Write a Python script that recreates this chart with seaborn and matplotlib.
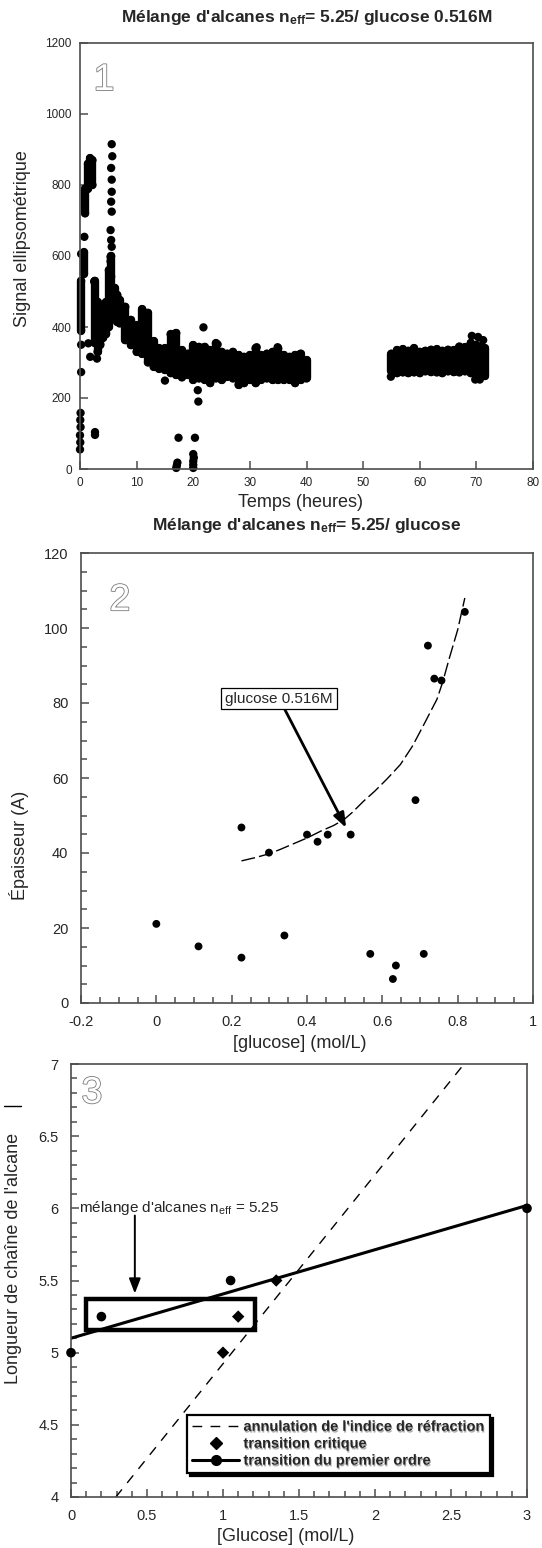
import seaborn as sns
import matplotlib.pyplot as plt
from matplotlib import patheffects
from matplotlib.lines import Line2D
from matplotlib.patches import Rectangle
from matplotlib.ticker import FuncFormatter, MultipleLocator

# ---------------- panel 1 : signal vs time ----------------
# dense parts of the cloud, read as (time, lowest point, highest point)
p1_t = [0.2, 0.7, 0.9, 1.4, 1.8, 2.2, 2.6, 3.1, 3.6, 4.1, 4.6, 5.1, 5.5, 6.1, 6.6,
        7, 8, 9, 10, 11, 12, 13, 14, 15, 16, 17, 18, 19, 20, 21, 22, 23, 24, 25, 26,
        27, 28, 29, 30, 31, 32, 33, 34, 35, 36, 37, 38, 39, 40,
        55, 56, 57, 58, 59, 60, 61, 62, 63, 64, 65, 66, 67, 68, 69, 70, 71, 71.5]
p1_lo = [390, 550, 720, 790, 810, 800, 355, 330, 350, 370, 380, 400, 480, 430, 415,
         410, 363, 349, 330, 325, 300, 288, 283, 279, 270, 265, 258, 265, 251, 255, 251, 242, 255, 251, 260,
         255, 237, 242, 251, 242, 251, 255, 251, 251, 251, 251, 242, 251, 255,
         275, 270, 272, 270, 272, 270, 275, 273, 272, 270, 275, 273, 272, 275, 270, 270, 270, 262]
p1_hi = [530, 610, 790, 860, 875, 870, 530, 470, 440, 450, 470, 560, 600, 510, 490,
         476, 457, 420, 405, 450, 440, 360, 340, 340, 380, 383, 335, 325, 349, 344, 344, 335, 354, 330, 325,
         330, 321, 316, 321, 340, 321, 325, 330, 340, 321, 316, 321, 325, 306,
         325, 335, 337, 333, 340, 330, 333, 336, 337, 333, 336, 335, 345, 343, 355, 350, 345, 340]
# isolated points
p1_pt_t = [0.0, 0.05, 0.0, 0.1, 0.05, 0.1,
           5.6, 5.7, 5.5, 5.6, 5.6, 5.5, 5.6, 5.4, 5.5, 5.6, 5.4, 5.4, 5.5,
           0.2, 0.2, 0.2, 0.77, 1.47, 1.8, 3.0, 2.65, 2.65, 2.5,
           15.0, 21.8, 20.8, 20.9, 24.3, 31.2, 34.9, 38.8,
           17.0, 17.1, 17.2, 17.4, 20.0, 20.0, 20.0, 20.1, 20.0, 20.3,
           54.9, 69.2, 70.3, 71.2, 69.8, 70.6]
p1_pt_y = [55, 75, 95, 118, 138, 158,
           915, 881, 848, 815, 781, 753, 725, 673, 645, 626, 598, 585, 542,
           273, 350, 606, 654, 354, 316, 311, 96, 104, 528,
           249, 399, 222, 190, 351, 343, 343, 323,
           3, 10, 18, 88, 3, 12, 22, 32, 42, 88,
           260, 375, 372, 363, 252, 252]

# ---------------- panel 2 : thickness vs glucose ----------------
p2_x = [0.0, 0.112, 0.226, 0.226, 0.299, 0.340, 0.400, 0.428, 0.455, 0.516,
        0.568, 0.628, 0.636, 0.688, 0.710, 0.721, 0.738, 0.757, 0.819]
p2_y = [21.1, 15.1, 12.1, 46.8, 40.1, 18.0, 44.9, 43.0, 44.9, 44.9,
        13.1, 6.4, 10.0, 54.1, 13.1, 95.3, 86.5, 86.0, 104.3]
fit_x = [0.226, 0.26, 0.30, 0.33, 0.365, 0.40, 0.44, 0.47, 0.498, 0.52, 0.55, 0.58,
         0.612, 0.648, 0.68, 0.71, 0.745, 0.76, 0.778, 0.80, 0.819]
fit_y = [37.9, 38.7, 39.8, 41.0, 42.5, 44.0, 46.0, 47.3, 48.9, 50.8, 53.8, 56.5,
         59.7, 63.6, 68.5, 74.2, 81.0, 85.5, 92.0, 99.5, 108.0]

# ---------------- panel 3 : chain length vs glucose ----------------
ann_x = [0.295, 2.586]
ann_y = [4.0, 7.0]
prem_line_x = [0.0, 3.0]
prem_line_y = [5.10, 6.02]
circ_x = [0.0, 0.2, 1.05, 3.0]
circ_y = [5.0, 5.25, 5.5, 6.0]
diam_x = [1.0, 1.1, 1.35]
diam_y = [5.0, 5.25, 5.5]

sns.set_style('ticks')
plt.rcParams['font.family'] = ['Liberation Sans', 'DejaVu Sans']
plt.rcParams['mathtext.fontset'] = 'custom'
plt.rcParams['mathtext.rm'] = 'Liberation Sans'
plt.rcParams['mathtext.it'] = 'Liberation Sans'
plt.rcParams['mathtext.bf'] = 'Liberation Sans:bold'

W, H = 542, 1548
fig = plt.figure(figsize=(W / 100, H / 100), dpi=100)


def px_rect(l, t, r, b):
    return [l / W, 1 - b / H, (r - l) / W, (b - t) / H]


def style_axes(ax, labelsize, pad):
    for sp in ax.spines.values():
        sp.set_color('#4d4d4d')
        sp.set_linewidth(1.2)
    ax.tick_params(which='both', direction='in', color='#4d4d4d', width=1.1,
                   labelsize=labelsize, pad=pad, top=False, right=False)
    ax.tick_params(which='major', length=6)
    ax.tick_params(which='minor', length=4)
    fmt = FuncFormatter(lambda v, p: f'{v:g}')
    ax.xaxis.set_major_formatter(fmt)
    ax.yaxis.set_major_formatter(fmt)


def hollow_digit(ax, x, y, s):
    ax.text(x, y, s, transform=ax.transAxes, fontsize=27, color='white',
            ha='center', va='center',
            path_effects=[patheffects.withStroke(linewidth=1.2, foreground='#7a7a7a')])


title_kw = dict(ha='center', va='center', fontsize=12.5, fontweight='bold')
lab_size = 13

# panel 1
ax1 = fig.add_axes(px_rect(80, 43, 533, 469))
cols = ax1.vlines(p1_t, p1_lo, p1_hi, colors='black', linewidth=6)
cols.set_capstyle('round')
cols.set_clip_on(False)
sns.scatterplot(x=p1_t + p1_t + p1_pt_t, y=p1_lo + p1_hi + p1_pt_y, ax=ax1,
                s=36, color='black', edgecolor='none', clip_on=False)
ax1.set_xlim(0, 80)
ax1.set_ylim(0, 1200)
ax1.xaxis.set_major_locator(MultipleLocator(10))
ax1.yaxis.set_major_locator(MultipleLocator(200))
style_axes(ax1, 8.5, 6)
ax1.set_xlabel('Temps (heures)', fontsize=lab_size)
ax1.set_ylabel('Signal ellipsométrique', fontsize=lab_size)
ax1.xaxis.set_label_coords(0.486, -0.058)
ax1.yaxis.set_label_coords(-0.108, 0.54)
ax1.text(0.5, 1.059, r"Mélange d'alcanes n$_{\mathbf{eff}}$= 5.25/ glucose 0.516M",
         transform=ax1.transAxes, **title_kw)
hollow_digit(ax1, 0.053, 0.913, '1')

# panel 2
ax2 = fig.add_axes(px_rect(81, 553, 533, 1003))
sns.lineplot(x=fit_x, y=fit_y, ax=ax2, color='black', linewidth=1.0,
             linestyle=(0, (10, 3)), sort=False)
sns.scatterplot(x=p2_x, y=p2_y, ax=ax2, s=32, color='black', edgecolor='none')
ax2.annotate('glucose 0.516M', xy=(0.504, 46.7), xytext=(0.326, 81.2),
             ha='center', va='center', fontsize=11,
             bbox=dict(boxstyle='square,pad=0.25', fc='white', ec='black', lw=0.9),
             arrowprops=dict(arrowstyle='-|>,head_length=0.8,head_width=0.3',
                             color='black', lw=2.0, shrinkA=0, shrinkB=0))
ax2.set_xlim(-0.2, 1.0)
ax2.set_ylim(0, 120)
ax2.xaxis.set_major_locator(MultipleLocator(0.2))
ax2.xaxis.set_minor_locator(MultipleLocator(0.05))
ax2.yaxis.set_major_locator(MultipleLocator(20))
ax2.yaxis.set_minor_locator(MultipleLocator(5))
style_axes(ax2, 10.5, 9)
ax2.set_xlabel('[glucose] (mol/L)', fontsize=lab_size)
ax2.set_ylabel('Épaisseur (A)', fontsize=lab_size)
ax2.xaxis.set_label_coords(0.484, -0.072)
ax2.yaxis.set_label_coords(-0.115, 0.35)
ax2.text(0.5, 1.062, r"Mélange d'alcanes n$_{\mathbf{eff}}$= 5.25/ glucose",
         transform=ax2.transAxes, **title_kw)
hollow_digit(ax2, 0.086, 0.895, '2')

# panel 3
ax3 = fig.add_axes(px_rect(71, 1064, 527, 1497))
sns.lineplot(x=ann_x, y=ann_y, ax=ax3, color='black', linewidth=1.0,
             linestyle=(0, (7, 6)))
sns.lineplot(x=prem_line_x, y=prem_line_y, ax=ax3, color='black', linewidth=2.2)
sns.scatterplot(x=circ_x, y=circ_y, ax=ax3, s=48, marker='o', color='black',
                edgecolor='none', clip_on=False, zorder=5)
sns.scatterplot(x=diam_x, y=diam_y, ax=ax3, s=40, marker='D', color='black',
                edgecolor='none', zorder=5)
ax3.add_patch(Rectangle((0.1, 5.16), 1.11, 0.21, fill=False, ec='black', lw=3.2, zorder=4))
ax3.annotate('', xy=(0.42, 5.41), xytext=(0.42, 5.95),
             arrowprops=dict(arrowstyle='-|>,head_length=0.9,head_width=0.35',
                             color='black', lw=1.4, shrinkA=0, shrinkB=0))
ax3.text(0.055, 6.0, r"mélange d'alcanes n$_{eff}$ = 5.25", fontsize=11,
         ha='left', va='center')
ax3.set_xlim(0, 3)
ax3.set_ylim(4, 7)
ax3.xaxis.set_major_locator(MultipleLocator(0.5))
ax3.xaxis.set_minor_locator(MultipleLocator(0.1))
ax3.yaxis.set_major_locator(MultipleLocator(0.5))
ax3.yaxis.set_minor_locator(MultipleLocator(0.1))
style_axes(ax3, 10.5, 9)
ax3.set_xlabel('[Glucose] (mol/L)', fontsize=lab_size)
ax3.set_ylabel("Longueur de chaîne de l'alcane", fontsize=lab_size)
ax3.xaxis.set_label_coords(0.47, -0.072)
ax3.yaxis.set_label_coords(-0.107, 0.55)
hollow_digit(ax3, 0.046, 0.933, '3')

handles = [Line2D([], [], color='black', lw=1.0, ls=(0, (7, 6))),
           Line2D([], [], color='black', ls='none', marker='D', ms=6),
           Line2D([], [], color='black', lw=2.2, marker='o', ms=7)]
labels = ["annulation de l'indice de réfraction", 'transition critique',
          'transition du premier ordre']
leg = ax3.legend(handles, labels, loc='upper left', bbox_to_anchor=(0.255, 0.19),
                 borderaxespad=0, frameon=True, fancybox=False,
                 shadow={'color': 'black', 'alpha': 1.0},
                 prop={'weight': 'bold', 'size': 10.5}, handlelength=3.2,
                 borderpad=0.35, labelspacing=0.2, handletextpad=0.3)
leg.get_frame().set_edgecolor('black')
leg.get_frame().set_linewidth(1.6)
for t in leg.get_texts():
    t.set_path_effects([patheffects.withSimplePatchShadow(offset=(0.6, -1.2),
                                                          shadow_rgbFace='#a0a0a0', alpha=0.9)])

# small stray mark at the left edge
fig.add_artist(Line2D([4 / W, 21 / W], [1 - 1106 / H, 1 - 1106 / H],
                      transform=fig.transFigure, color='black', lw=1.0))

fig.savefig('out.png', dpi=100)
